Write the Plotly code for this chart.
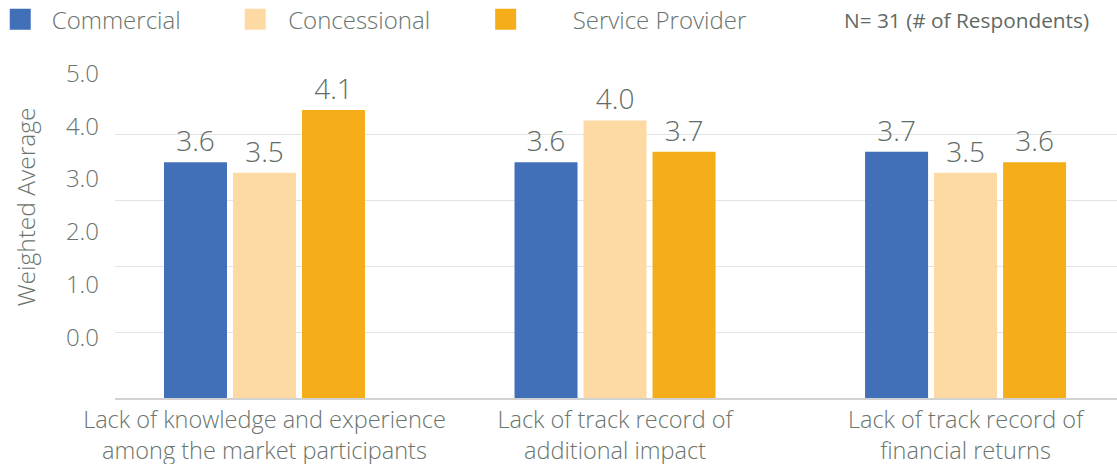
import plotly.graph_objects as go

categories = [
    "Lack of knowledge and experience<br>among the market participants",
    "Lack of track record of<br>additional impact",
    "Lack of track record of<br>financial returns",
]
series_names = ["Commercial", "Concessional", "Service Provider"]
commercial = [3.6, 3.6, 3.7]
concessional = [3.5, 4.0, 3.5]
service_provider = [4.1, 3.7, 3.6]
axis_tick_values = [0, 1, 2, 3, 4, 5]
axis_tick_labels = ["0.0", "1.0", "2.0", "3.0", "4.0", "5.0"]
note_text = "N= 31 (# of Respondents)"
axis_title = "Weighted Average"

colors = ["#4170b8", "#fddaa3", "#f5ae1a"]
text_color = "#69746d"
FONT = "Open Sans"

fig = go.Figure()
for name, vals, col in zip(series_names, [commercial, concessional, service_provider], colors):
    fig.add_trace(go.Bar(
        x=categories, y=vals, name=name, marker=dict(color=col, line=dict(width=0)),
        text=[f"{v:.1f}" for v in vals], textposition="outside",
        textfont=dict(size=28, color="#616c66", family=FONT, weight=300),
        cliponaxis=False, showlegend=False,
    ))

legend_ids = ["legend", "legend2", "legend3"]
for name, col, lid in zip(series_names, colors, legend_ids):
    fig.add_trace(go.Scatter(
        x=[None], y=[None], mode="markers", name=name, legend=lid,
        marker=dict(symbol="square", size=16, color=col, line=dict(color=col, width=5)),
        showlegend=True,
    ))

# axes for gridlines and for tick labels
fig.add_trace(go.Scatter(x=[None], y=[None], yaxis="y2", showlegend=False, hoverinfo="skip"))
fig.add_trace(go.Scatter(x=[None], y=[None], yaxis="y3", showlegend=False, hoverinfo="skip"))

def leg(x, iw):
    return dict(x=x, xanchor="left", y=1.15, yanchor="middle", orientation="h",
                itemwidth=iw, font=dict(size=24, color=text_color, family=FONT, weight=300),
                bgcolor="rgba(0,0,0,0)", borderwidth=0)

fig.update_layout(
    width=1117, height=464,
    margin=dict(l=115, r=0, t=69.3, b=66, autoexpand=False),
    paper_bgcolor="white", plot_bgcolor="white",
    barmode="group", bargap=0.4094, bargroupgap=0.087,
    font=dict(family=FONT, color=text_color, weight=300),
    xaxis=dict(type="category", range=[-0.4265, 2.432], showline=True, linecolor="#d2d2d2",
               linewidth=1.5, ticks="",
               tickfont=dict(size=23.5, color=text_color, family=FONT, weight=300),
               showgrid=False, zeroline=False),
    yaxis=dict(range=[1.349, 4.491], showticklabels=False, showgrid=False, zeroline=False,
               ticks=""),
    yaxis2=dict(overlaying="y", range=[0, 5], tickvals=[1, 2, 3, 4, 5], showticklabels=False,
                showgrid=True, gridcolor="#e4e4e4", gridwidth=1, zeroline=False, ticks=""),
    yaxis3=dict(overlaying="y", range=[-1.147, 5.085], tickvals=axis_tick_values,
                ticktext=axis_tick_labels, showgrid=False, zeroline=False, ticks="",
                ticklabelstandoff=15,
                tickfont=dict(size=24, color=text_color, family=FONT, weight=300)),
    legend=leg(-0.126, 53),
    legend2=leg(0.107, 56),
    legend3=leg(0.323, 124),
    annotations=[
        dict(text=note_text, xref="paper", yref="paper", x=0.7255, y=1.15, xanchor="left",
             yanchor="middle", showarrow=False,
             font=dict(size=20.8, color="#5f6a64", family=FONT, weight=400)),
        dict(text=axis_title, xref="paper", yref="paper", x=-0.0893, y=0.581, textangle=-90,
             xanchor="center", yanchor="middle", showarrow=False,
             font=dict(size=24.5, color=text_color, family=FONT, weight=300)),
    ],
)

fig.write_html("out.html", config={"displayModeBar": False},
               post_script="document.body.style.margin='0px';")
